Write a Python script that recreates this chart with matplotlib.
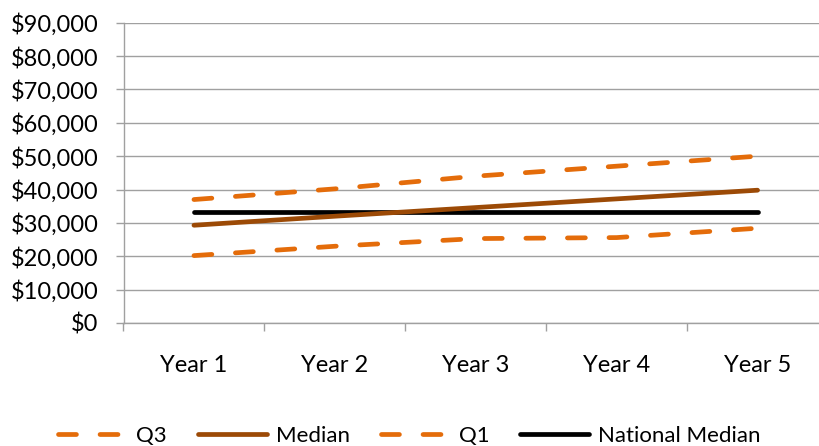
import matplotlib
matplotlib.use("Agg")
import matplotlib.pyplot as plt
from matplotlib.ticker import FuncFormatter, MultipleLocator

plt.rcParams['font.family'] = ['Lato', 'DejaVu Sans']

years = ["Year 1", "Year 2", "Year 3", "Year 4", "Year 5"]
q3 = [37000, 40200, 44000, 47000, 50000]
median = [29300, 32000, 34600, 37200, 39800]
q1 = [20200, 23000, 25300, 25600, 28400]
national_median = [33400, 33400, 33400, 33400, 33400]

orange = "#E46C0A"
brown = "#9C4A06"
grid_col = "#A0A0A0"
fs = 17

fig = plt.figure(figsize=(8.19, 4.46), dpi=100)
ax = fig.add_axes([123.5 / 819, 1 - 323 / 446, (828 - 123.5) / 819, (323 - 22.7) / 446])

x = list(range(len(years)))
lw = 3.4
dash = (0, (3.8, 5.0))
ax.plot(x, q3, color=orange, lw=lw, linestyle=dash, dash_capstyle='round', label="Q3", zorder=3)
ax.plot(x, median, color=brown, lw=lw, solid_capstyle='round', label="Median", zorder=3)
ax.plot(x, q1, color=orange, lw=lw, linestyle=dash, dash_capstyle='round', label="Q1", zorder=3)
ax.plot(x, national_median, color="black", lw=lw, solid_capstyle='round', label="National Median", zorder=2)

ax.set_xlim(-0.5, len(years) - 0.5)
ax.set_ylim(0, 90000)
ax.yaxis.set_major_locator(MultipleLocator(10000))
ax.yaxis.set_major_formatter(FuncFormatter(lambda v, p: f"${v:,.0f}"))
ax.grid(axis='y', color=grid_col, lw=1.0)
ax.set_axisbelow(True)

# category boundaries carry the tick marks, labels sit between them
ax.set_xticks([i - 0.5 for i in range(len(years) + 1)])
ax.set_xticklabels([])
ax.set_xticks(x, minor=True)
ax.set_xticklabels(years, minor=True)
ax.tick_params(axis='x', which='major', length=6, color=grid_col, width=1.0)
ax.tick_params(axis='x', which='minor', length=0, pad=23, labelsize=fs)
ax.tick_params(axis='y', length=6, color=grid_col, width=1.0, pad=12, labelsize=fs)

for s in ('top', 'right'):
    ax.spines[s].set_visible(False)
for s in ('left', 'bottom'):
    ax.spines[s].set_color(grid_col)
    ax.spines[s].set_linewidth(1.0)

fig.legend(loc='center', bbox_to_anchor=(0.5, 1 - 436 / 446), ncol=4, frameon=False,
           fontsize=16, handlelength=3.1, handletextpad=0.4, columnspacing=1.4)

fig.savefig("out.png", dpi=100)
